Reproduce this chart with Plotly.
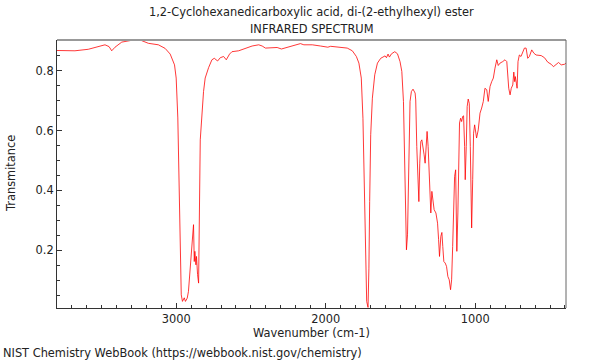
import plotly.graph_objects as go

wavenumber = [3797, 3677, 3588, 3532, 3476, 3449, 3431, 3409, 3364, 3297, 3241, 3186, 3119, 3074, 3040,
              3011, 3000, 2989, 2980, 2973, 2966, 2958, 2946, 2938, 2926, 2918, 2906, 2895, 2884, 2879,
              2875, 2868, 2864, 2857, 2850, 2839, 2824, 2817, 2806, 2794, 2783, 2761, 2745, 2723, 2705,
              2683, 2665, 2643, 2627, 2582, 2537, 2492, 2448, 2425, 2403, 2358, 2325, 2296, 2258, 2214,
              2180, 2169, 2146, 2090, 2035, 1986, 1967, 1912, 1856, 1822, 1795, 1778, 1762, 1751, 1740,
              1733, 1726, 1717, 1711, 1706, 1699, 1688, 1672, 1654, 1632, 1603, 1594, 1583, 1574, 1560,
              1538, 1520, 1503, 1491, 1480, 1471, 1465, 1460, 1453, 1447, 1442, 1436, 1427, 1416, 1402,
              1398, 1391, 1382, 1377, 1371, 1364, 1357, 1349, 1342, 1335, 1328, 1322, 1315, 1308, 1301,
              1297, 1290, 1282, 1275, 1263, 1252, 1245, 1239, 1230, 1223, 1217, 1210, 1201, 1192, 1183,
              1174, 1165, 1158, 1151, 1145, 1138, 1131, 1127, 1123, 1116, 1109, 1105, 1098, 1091, 1084,
              1078, 1071, 1067, 1060, 1054, 1047, 1040, 1033, 1029, 1024, 1017, 1011, 1004, 1000, 991,
              980, 968, 957, 946, 935, 923, 913, 901, 890, 879, 868, 856, 846, 834, 816,
              801, 789, 783, 776, 767, 759, 749, 742, 736, 732, 725, 720, 714, 705, 694,
              682, 671, 660, 649, 638, 622, 608, 593, 559, 537, 515, 492, 477, 459, 443,
              425, 403, 393]
transmittance = [0.867, 0.866, 0.871, 0.878, 0.886, 0.880, 0.866, 0.878, 0.895, 0.901, 0.902, 0.891, 0.886, 0.874, 0.855,
                 0.819, 0.775, 0.642, 0.363, 0.142, 0.052, 0.030, 0.042, 0.030, 0.041, 0.063, 0.141, 0.230, 0.286, 0.163,
                 0.197, 0.152, 0.180, 0.120, 0.091, 0.569, 0.697, 0.730, 0.775, 0.797, 0.810, 0.836, 0.841, 0.832, 0.843,
                 0.847, 0.836, 0.855, 0.863, 0.866, 0.875, 0.882, 0.886, 0.882, 0.875, 0.875, 0.877, 0.872, 0.877, 0.882,
                 0.886, 0.890, 0.886, 0.886, 0.882, 0.878, 0.881, 0.878, 0.875, 0.866, 0.847, 0.825, 0.775, 0.641, 0.363,
                 0.142, 0.030, 0.010, 0.141, 0.363, 0.586, 0.708, 0.786, 0.825, 0.841, 0.849, 0.843, 0.855, 0.845, 0.856,
                 0.863, 0.856, 0.830, 0.797, 0.697, 0.475, 0.252, 0.202, 0.252, 0.419, 0.586, 0.697, 0.730, 0.738, 0.725,
                 0.702, 0.547, 0.402, 0.363, 0.491, 0.563, 0.569, 0.547, 0.519, 0.491, 0.536, 0.597, 0.547, 0.436, 0.347,
                 0.325, 0.397, 0.369, 0.336, 0.325, 0.291, 0.236, 0.180, 0.247, 0.260, 0.213, 0.163, 0.158, 0.147, 0.113,
                 0.102, 0.069, 0.102, 0.213, 0.347, 0.447, 0.469, 0.325, 0.197, 0.325, 0.491, 0.625, 0.641, 0.630, 0.647,
                 0.649, 0.547, 0.436, 0.547, 0.680, 0.705, 0.691, 0.547, 0.380, 0.275, 0.436, 0.591, 0.619, 0.602, 0.575,
                 0.602, 0.658, 0.675, 0.697, 0.741, 0.736, 0.697, 0.747, 0.763, 0.775, 0.808, 0.836, 0.817, 0.825, 0.830,
                 0.836, 0.830, 0.797, 0.741, 0.719, 0.741, 0.752, 0.795, 0.763, 0.780, 0.758, 0.741, 0.830, 0.852, 0.847,
                 0.863, 0.875, 0.875, 0.841, 0.847, 0.869, 0.858, 0.852, 0.850, 0.843, 0.828, 0.821, 0.813, 0.821, 0.827,
                 0.819, 0.821, 0.825]

title_line1 = "1,2-Cyclohexanedicarboxylic acid, di-(2-ethylhexyl) ester"
title_line2 = "INFRARED SPECTRUM"
x_title = "Wavenumber (cm-1)"
y_title = "Transmitance"
footer = "NIST Chemistry WebBook (https://webbook.nist.gov/chemistry)"

FONT = "DejaVu Sans"
FS = 11.4

fig = go.Figure()
fig.add_trace(go.Scatter(x=wavenumber, y=transmittance, mode="lines",
                         line=dict(color="rgba(255,0,0,0.78)", width=1), hoverinfo="skip"))

fig.update_layout(
    width=600, height=360,
    margin=dict(l=57, r=34, t=40, b=52),
    paper_bgcolor="white", plot_bgcolor="white",
    showlegend=False,
    font=dict(family=FONT, size=FS, color="#222"),
    xaxis=dict(range=[3797, 393], showgrid=False, zeroline=False,
               showline=True, linecolor="#333", linewidth=1,
               ticks="inside", ticklen=5, tickcolor="#333", tick0=0, dtick=1000,
               minor=dict(ticks="inside", ticklen=3, dtick=100, tickcolor="#333"),
               tickfont=dict(family=FONT, size=FS, color="#222")),
    yaxis=dict(range=[0.008, 0.902], showgrid=False, zeroline=False,
               showline=True, linecolor="#333", linewidth=1,
               ticks="inside", ticklen=5, tickcolor="#333", tick0=0, dtick=0.2,
               minor=dict(ticks="inside", ticklen=3, dtick=0.05, tickcolor="#333"),
               tickfont=dict(family=FONT, size=FS, color="#222")),
    shapes=[
        dict(type="line", xref="paper", yref="paper", x0=0, x1=1, y0=1, y1=1,
             line=dict(color="#999", width=2)),
        dict(type="line", xref="paper", yref="paper", x0=1, x1=1, y0=0, y1=1,
             line=dict(color="#666", width=1)),
    ],
    annotations=[
        dict(text=title_line1, xref="paper", yref="paper", x=0.5, y=1, yshift=28,
             showarrow=False, xanchor="center", yanchor="middle", font=dict(size=FS)),
        dict(text=title_line2, xref="paper", yref="paper", x=0.5, y=1, yshift=11,
             showarrow=False, xanchor="center", yanchor="middle", font=dict(size=FS)),
        dict(text=x_title, xref="paper", yref="paper", x=0.5, y=0, yshift=-25,
             showarrow=False, xanchor="center", yanchor="middle", font=dict(size=FS)),
        dict(text=y_title, xref="paper", yref="paper", x=0, xshift=-46, y=0.5,
             showarrow=False, xanchor="center", yanchor="middle", textangle=-90, font=dict(size=FS)),
        dict(text=footer, xref="paper", yref="paper", x=0, xshift=-56, y=0, yshift=-45,
             showarrow=False, xanchor="left", yanchor="middle", font=dict(size=FS)),
    ],
)

fig.write_html("out.html", config={"displayModeBar": False},
               post_script="document.body.style.margin='0';document.body.style.overflow='hidden';")
